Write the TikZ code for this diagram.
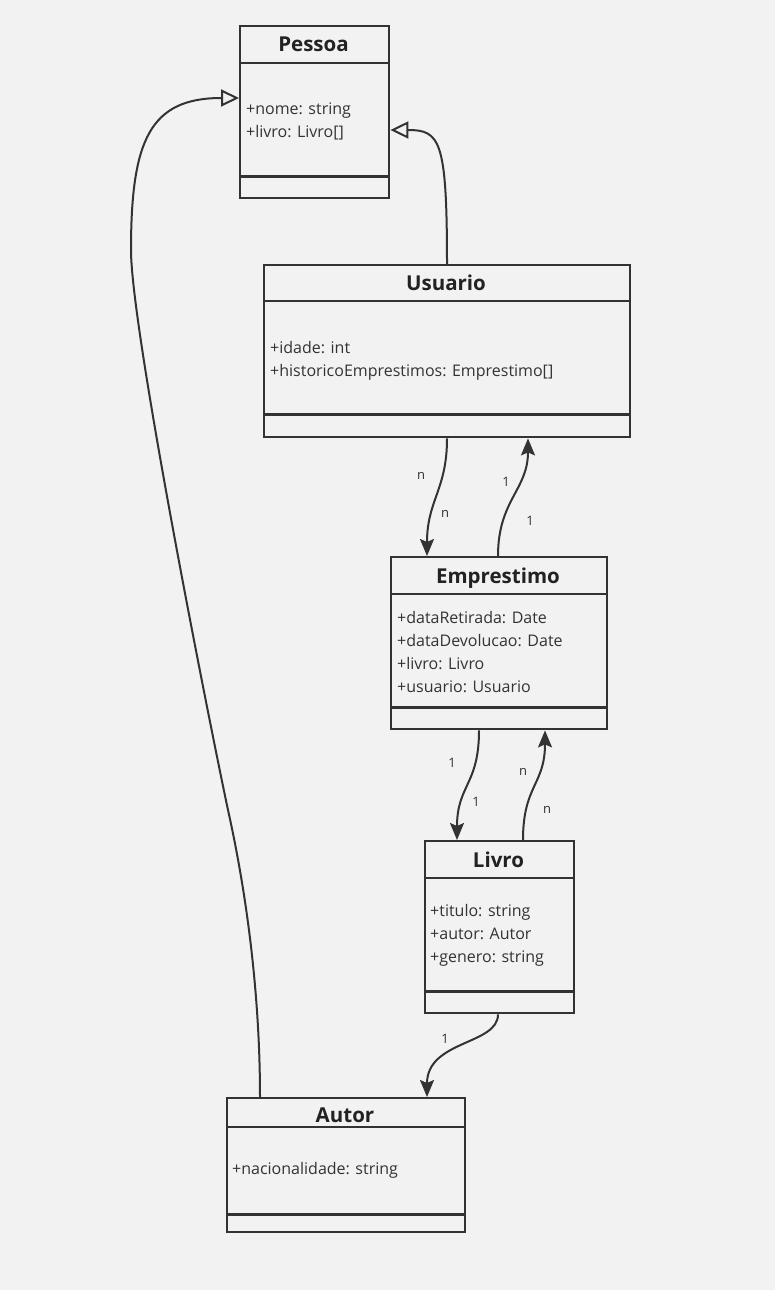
\documentclass[tikz,border=0pt]{standalone}
\usepackage{fontspec}
\setmainfont{Open Sans}
\usepackage{tikz}
\usetikzlibrary{arrows.meta}
\definecolor{bggray}{HTML}{F2F2F2}
\definecolor{ink}{HTML}{333333}
\definecolor{titleink}{HTML}{222222}

\begin{document}
\begin{tikzpicture}[x=1pt, y=-1pt,
    classbox/.style={draw=ink, line width=2.4pt, fill=bggray, anchor=north west, inner sep=0pt},
    classtitle/.style={anchor=base, inner sep=0pt, text=titleink, font=\fontsize{20.5}{24}\selectfont\bfseries},
    attrs/.style={anchor=west, align=left, inner sep=0pt, text=ink, font=\fontsize{16}{23}\selectfont},
    mult/.style={inner sep=0pt, text=ink, font=\fontsize{13}{15}\selectfont},
    divider/.style={draw=ink, line width=2.4pt},
    assoc/.style={draw=ink, line width=2pt, -{Stealth[length=17pt, width=14pt, inset=3pt]}},
    inherit/.style={draw=ink, line width=2pt, -{Triangle[open, length=18pt, width=17pt]}}]
        \useasboundingbox (0,0) rectangle (775,1290);
        \fill[bggray] (0,0) rectangle (775,1290);
        % Nodes
        \node[classbox, minimum width=149pt, minimum height=172pt] (pessoa) at (239,25) {};
        \node[classtitle] (pessoaTitle) at (313.5,52) {Pessoa};
        \node[attrs] (pessoaAttrs) at (246,121) {+nome: string\\+livro: Livro[]};
        \node[classbox, minimum width=366pt, minimum height=172pt] (usuario) at (263,264) {};
        \node[classtitle] (usuarioTitle) at (446,290) {Usuario};
        \node[attrs] (usuarioAttrs) at (270,361) {+idade: int\\+historicoEmprestimos: Emprestimo[]};
        \node[classbox, minimum width=216pt, minimum height=172pt] (emprestimo) at (390,556) {};
        \node[classtitle] (emprestimoTitle) at (498,583) {Emprestimo};
        \node[attrs] (emprestimoAttrs) at (397,652) {+dataRetirada: Date\\+dataDevolucao: Date\\+livro: Livro\\+usuario: Usuario};
        \node[classbox, minimum width=149pt, minimum height=172pt] (livro) at (424,840) {};
        \node[classtitle] (livroTitle) at (498.5,867) {Livro};
        \node[attrs] (livroAttrs) at (430,935.5) {+titulo: string\\+autor: Autor\\+genero: string};
        \node[classbox, minimum width=238pt, minimum height=134pt] (autor) at (226,1097) {};
        \node[classtitle] (autorTitle) at (345,1122) {Autor};
        \node[attrs] (autorAttrs) at (232,1170.5) {+nacionalidade: string};
        % Compartments
        \draw[divider] ([yshift=-38pt]pessoa.north west) -- ([yshift=-38pt]pessoa.north east);
        \draw[divider] ([yshift=23pt]pessoa.south west) -- ([yshift=23pt]pessoa.south east);
        \draw[divider] ([yshift=-37pt]usuario.north west) -- ([yshift=-37pt]usuario.north east);
        \draw[divider] ([yshift=24pt]usuario.south west) -- ([yshift=24pt]usuario.south east);
        \draw[divider] ([yshift=-38pt]emprestimo.north west) -- ([yshift=-38pt]emprestimo.north east);
        \draw[divider] ([yshift=23pt]emprestimo.south west) -- ([yshift=23pt]emprestimo.south east);
        \draw[divider] ([yshift=-38pt]livro.north west) -- ([yshift=-38pt]livro.north east);
        \draw[divider] ([yshift=23pt]livro.south west) -- ([yshift=23pt]livro.south east);
        \draw[divider] ([yshift=-30pt]autor.north west) -- ([yshift=-30pt]autor.north east);
        \draw[divider] ([yshift=19pt]autor.south west) -- ([yshift=19pt]autor.south east);
        % Edges
        \draw[inherit] ([xshift=184pt]usuario.north west) .. controls (447,140) and (440,130) .. ([yshift=-105pt]pessoa.north east);
        \draw[inherit] ([xshift=34pt]autor.north west) .. controls (260,1000) and (248,900) .. (228,810)
            .. controls (212,735) and (131,330) .. (131,250)
            .. controls (131,140) and (150,98) .. ([yshift=-73pt]pessoa.north west);
        \draw[assoc] ([xshift=184pt]usuario.south west) .. controls (447,490) and (427,500) .. ([xshift=37pt]emprestimo.north west);
        \draw[assoc] ([xshift=108pt]emprestimo.north west) .. controls (498,500) and (528,490) .. ([xshift=265pt]usuario.south west);
        \draw[assoc] ([xshift=89pt]emprestimo.south west) .. controls (479,785) and (457,785) .. ([xshift=33pt]livro.north west);
        \draw[assoc] ([xshift=99pt]livro.north west) .. controls (523,785) and (545,785) .. ([xshift=155pt]emprestimo.south west);
        \draw[assoc] ([xshift=74pt]livro.south west) .. controls (498,1045) and (427,1040) .. ([xshift=201pt]autor.north west);
        % Multiplicities
        \node[mult] (multUE1) at (421,476) {n};
        \node[mult] (multUE2) at (445,514) {n};
        \node[mult] (multEU1) at (506,482) {1};
        \node[mult] (multEU2) at (530,521) {1};
        \node[mult] (multEL1) at (452,763) {1};
        \node[mult] (multEL2) at (476,802) {1};
        \node[mult] (multLE1) at (523,772) {n};
        \node[mult] (multLE2) at (547,810) {n};
        \node[mult] (multLA) at (445,1039) {1};
    \end{tikzpicture}
\end{document}
